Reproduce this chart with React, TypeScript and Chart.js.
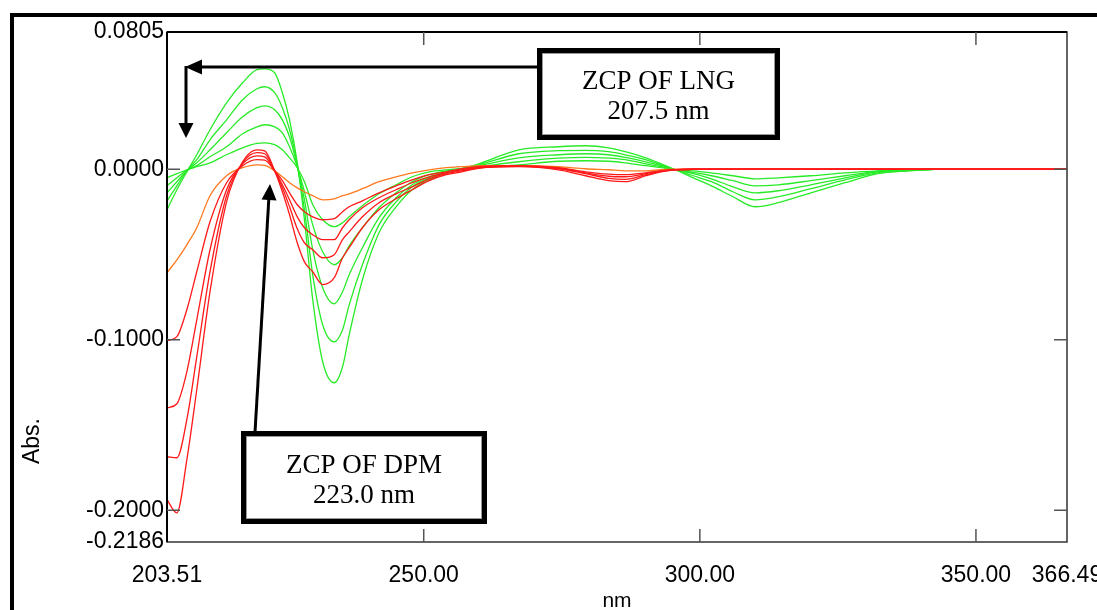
import React, { useEffect, useRef } from "react";
import { Chart, registerables } from "chart.js";

Chart.register(...registerables);

// ---------- data ----------
const wavelengths = [
  203.51, 205.3, 207.1, 208.9, 211.3, 214.3, 217.2, 219.8, 221.2, 223.0,
  224.4, 225.7, 227.1, 228.4, 229.9, 231.7, 233.8, 235.3, 236.5, 238.9,
  241.9, 245.0, 247.9, 251.0, 254.1, 256.9, 260.0, 267.2, 274.4, 279.3,
  283.5, 286.5, 290.2, 293.0, 295.6, 298.8, 302.1, 306.0, 310.0, 314.2,
  320.1, 326.3, 332.2, 337.6, 342.5, 353.9, 366.49,
];

const xTickValues = [203.51, 250, 300, 350, 366.49];
const yTickValues = [0.0805, 0, -0.1, -0.2, -0.2186];
const innerXTicks = [250, 300, 350];
const innerYTicks = [0, -0.1, -0.2];

// LNG (green) first-derivative spectra
const lng1 = [-0.0238, -0.012, -0.0015, 0.0085, 0.0232, 0.039, 0.0507, 0.0584, 0.0589, 0.0566, 0.0449, 0.029, 0.0038, -0.0296, -0.0765, -0.1129, -0.1252, -0.1158, -0.0971, -0.0648, -0.0372, -0.022, -0.012, -0.0062, -0.0021, 0.0003, 0.0032, 0.0114, 0.0132, 0.0138, 0.0126, 0.0103, 0.0067, 0.0032, -0.0003, -0.005, -0.0097, -0.0161, -0.022, -0.0196, -0.0138, -0.0079, -0.0026, -0.0009, 0.0, null, null];
const lng2 = [-0.0185, -0.0097, -0.0009, 0.0056, 0.0173, 0.029, 0.0408, 0.0472, 0.0484, 0.0449, 0.0361, 0.0232, 0.0026, -0.0238, -0.0619, -0.0912, -0.1012, -0.0941, -0.0795, -0.056, -0.0326, -0.0191, -0.0103, -0.005, -0.0021, 0.0003, 0.0026, 0.0091, 0.0109, 0.0111, 0.0103, 0.0085, 0.0056, 0.0026, -0.0003, -0.0038, -0.0073, -0.0132, -0.0179, -0.0161, -0.0114, -0.0062, -0.0021, -0.0009, 0.0, null, null];
const lng3 = [-0.0138, -0.0073, -0.0009, 0.0038, 0.0114, 0.0214, 0.0308, 0.0361, 0.0372, 0.0349, 0.029, 0.0191, 0.0021, -0.0179, -0.0472, -0.0695, -0.0789, -0.0718, -0.0619, -0.046, -0.0284, -0.0167, -0.0091, -0.0044, -0.0015, 0.0003, 0.0021, 0.0067, 0.0085, 0.0091, 0.0085, 0.007, 0.0044, 0.0021, -0.0003, -0.0026, -0.0056, -0.0103, -0.0138, -0.0126, -0.0091, -0.005, -0.0015, -0.0006, 0.0, null, null];
const lng4 = [-0.0097, -0.005, -0.0006, 0.0021, 0.0073, 0.0132, 0.0208, 0.0249, 0.0261, 0.0249, 0.0214, 0.0132, 0.0015, -0.0132, -0.0326, -0.0484, -0.056, -0.0519, -0.0449, -0.0343, -0.0226, -0.0138, -0.0073, -0.0032, -0.0009, 0.0003, 0.0015, 0.0044, 0.0065, 0.007, 0.0065, 0.0056, 0.0032, 0.0015, -0.0003, -0.0018, -0.0038, -0.0067, -0.0097, -0.0091, -0.0067, -0.0038, -0.0012, -0.0005, 0.0, null, null];
const lng5 = [-0.005, -0.0026, -0.0003, 0.0015, 0.0038, 0.0085, 0.0126, 0.0152, 0.0155, 0.0144, 0.0114, 0.0067, 0.0009, -0.0073, -0.0208, -0.0296, -0.0337, -0.0314, -0.0279, -0.0214, -0.0144, -0.0091, -0.0044, -0.0015, -0.0003, 0.0003, 0.0009, 0.0026, 0.0047, 0.005, 0.0047, 0.0038, 0.0021, 0.0009, -0.0003, -0.0009, -0.0021, -0.0038, -0.0056, -0.005, -0.0038, -0.0021, -0.0009, -0.0003, 0.0, null, null];

// DPM (red) first-derivative spectra
const dpm1 = [-0.1006, -0.0982, -0.0824, -0.0601, -0.0308, -0.0079, 0.0021, 0.0056, 0.0053, -0.0009, -0.0067, -0.0138, -0.0208, -0.0249, -0.0279, -0.0296, -0.029, -0.0249, -0.022, -0.0185, -0.0138, -0.0097, -0.0062, -0.0032, -0.0015, 0.0003, 0.0015, 0.0021, 0.0009, -0.0015, -0.0029, -0.0032, -0.0021, -0.0009, -0.0003, 0, 0, 0, 0, 0, 0, 0, 0, 0, 0, 0, 0];
const dpm2 = [-0.1399, -0.1375, -0.1188, -0.0883, -0.0472, -0.012, 0.0032, 0.0079, 0.0073, -0.0009, -0.0091, -0.0179, -0.0279, -0.0343, -0.0384, -0.0413, -0.0413, -0.0343, -0.0296, -0.0226, -0.0167, -0.012, -0.0079, -0.0044, -0.0021, -0.0003, 0.0012, 0.0018, 0.0006, -0.0021, -0.0041, -0.0044, -0.0026, -0.0009, -0.0003, 0, 0, 0, 0, 0, 0, 0, 0, 0, 0, 0, 0];
const dpm3 = [-0.1686, -0.1692, -0.1469, -0.11, -0.0601, -0.0155, 0.0038, 0.0097, 0.0091, -0.0009, -0.0109, -0.022, -0.0349, -0.0431, -0.0472, -0.0519, -0.0501, -0.0413, -0.0367, -0.0279, -0.0196, -0.0144, -0.0103, -0.0056, -0.0026, -0.0009, 0.0009, 0.0018, 0.0003, -0.0026, -0.0053, -0.0059, -0.0032, -0.0012, -0.0003, 0, 0, 0, 0, 0, 0, 0, 0, 0, 0, 0, 0];
const dpm4 = [-0.1938, -0.2015, -0.1704, -0.1293, -0.0718, -0.0191, 0.0044, 0.0114, 0.0108, -0.0009, -0.0132, -0.0267, -0.0431, -0.0543, -0.0601, -0.0677, -0.0636, -0.0519, -0.046, -0.0343, -0.0238, -0.0173, -0.012, -0.0067, -0.0032, -0.0015, 0.0006, 0.0015, -0.0003, -0.0038, -0.0067, -0.0073, -0.0038, -0.0015, -0.0003, 0, 0, 0, 0, 0, 0, 0, 0, 0, 0, 0, 0];

// orange spectrum
const orangeSeries = [-0.0607, -0.0531, -0.0443, -0.0343, -0.0155, -0.0038, 0.0009, 0.0026, 0.0023, -0.0009, -0.0044, -0.0079, -0.0109, -0.0132, -0.0155, -0.0179, -0.0173, -0.0155, -0.0144, -0.0114, -0.0073, -0.0044, -0.0021, -0.0003, 0.0009, 0.0015, 0.0021, 0.0021, 0.0015, 0.0003, -0.0003, -0.0009, -0.0009, -0.0003, 0.0, 0, 0, 0, 0, 0, 0, 0, 0, 0, 0, 0, 0];

const GREEN = "rgb(40,235,40)";
const RED = "rgb(255,25,25)";
const ORANGE = "rgb(255,120,30)";

const SANS = '"Liberation Sans", Arial, sans-serif';
const SERIF = '"Liberation Serif", "Times New Roman", serif';

function toPoints(values: (number | null)[]) {
  return wavelengths.map((w, i) => ({ x: w, y: values[i] }));
}

function arrowHead(ctx: CanvasRenderingContext2D, fx: number, fy: number, tx: number, ty: number, len: number, wid: number) {
  const dx = tx - fx;
  const dy = ty - fy;
  const d = Math.hypot(dx, dy);
  const ux = dx / d;
  const uy = dy / d;
  const bx = tx - ux * len;
  const by = ty - uy * len;
  ctx.beginPath();
  ctx.moveTo(tx, ty);
  ctx.lineTo(bx - uy * wid / 2, by + ux * wid / 2);
  ctx.lineTo(bx + uy * wid / 2, by - ux * wid / 2);
  ctx.closePath();
  ctx.fill();
}

function box(ctx: CanvasRenderingContext2D, x: number, y: number, w: number, h: number, l1: string, l2: string) {
  ctx.fillStyle = "#fff";
  ctx.fillRect(x, y, w, h);
  ctx.lineWidth = 5;
  ctx.strokeStyle = "#000";
  ctx.strokeRect(x + 2.5, y + 2.5, w - 5, h - 5);
  ctx.lineWidth = 1;
  ctx.strokeStyle = "#999";
  ctx.strokeRect(x + 5.5, y + 5.5, w - 11, h - 11);
  ctx.fillStyle = "#000";
  ctx.font = `27px ${SERIF}`;
  ctx.textAlign = "center";
  ctx.textBaseline = "middle";
  const cx = x + w / 2;
  ctx.fillText(l1, cx, y + h * 0.37);
  ctx.fillText(l2, cx, y + h * 0.7);
}

const framePlugin = {
  id: "framePlugin",
  afterDraw(chart: any) {
    const ctx: CanvasRenderingContext2D = chart.ctx;
    const { left, right, top, bottom } = chart.chartArea;
    const xs = chart.scales.x;
    const ys = chart.scales.y;
    ctx.save();
    // frame
    ctx.strokeStyle = "#333";
    ctx.lineWidth = 1.5;
    ctx.strokeRect(left, top, right - left, bottom - top);
    ctx.strokeStyle = "#000";
    ctx.lineWidth = 2;
    ctx.beginPath();
    ctx.moveTo(left, top);
    ctx.lineTo(right, top);
    ctx.moveTo(left, top);
    ctx.lineTo(left, bottom);
    ctx.stroke();
    // inner ticks
    ctx.strokeStyle = "#555";
    ctx.lineWidth = 1.5;
    ctx.beginPath();
    innerXTicks.forEach((v) => {
      const px = xs.getPixelForValue(v);
      ctx.moveTo(px, bottom);
      ctx.lineTo(px, bottom - 13);
      ctx.moveTo(px, top);
      ctx.lineTo(px, top + 13);
    });
    innerYTicks.forEach((v) => {
      const py = ys.getPixelForValue(v);
      ctx.moveTo(left, py);
      ctx.lineTo(left + 13, py);
      ctx.moveTo(right, py);
      ctx.lineTo(right - 13, py);
    });
    ctx.stroke();

    // axis titles
    ctx.fillStyle = "#000";
    ctx.font = `21px ${SANS}`;
    ctx.textAlign = "center";
    ctx.textBaseline = "middle";
    ctx.fillText("nm", (left + right) / 2, 601);
    ctx.save();
    ctx.translate(33, 441);
    ctx.rotate(-Math.PI / 2);
    ctx.font = `23px ${SANS}`;
    ctx.fillText("Abs.", 0, 0);
    ctx.restore();

    // annotation: ZCP of LNG
    ctx.fillStyle = "#000";
    ctx.strokeStyle = "#000";
    ctx.lineWidth = 3;
    ctx.beginPath();
    ctx.moveTo(537, 67);
    ctx.lineTo(195, 67);
    ctx.moveTo(186, 66);
    ctx.lineTo(186, 126);
    ctx.stroke();
    arrowHead(ctx, 537, 67, 185, 67, 17, 15);
    arrowHead(ctx, 186, 67, 186, 138, 15, 15);
    box(ctx, 537, 48, 243, 92, "ZCP OF LNG", "207.5 nm");

    // annotation: ZCP of DPM
    ctx.fillStyle = "#000";
    ctx.strokeStyle = "#000";
    ctx.lineWidth = 3;
    ctx.beginPath();
    ctx.moveTo(255, 432);
    ctx.lineTo(269, 196);
    ctx.stroke();
    arrowHead(ctx, 255, 432, 270, 184, 16, 15);
    box(ctx, 241, 431, 246, 93, "ZCP OF DPM", "223.0 nm");
    ctx.restore();
  },
};

export default function App() {
  const canvasRef = useRef<HTMLCanvasElement | null>(null);

  useEffect(() => {
    if (!canvasRef.current) return;
    const mk = (values: (number | null)[], color: string) => ({
      data: toPoints(values),
      borderColor: color,
      backgroundColor: color,
      borderWidth: 1.3,
      pointRadius: 0,
      fill: false,
      cubicInterpolationMode: "monotone" as const,
      spanGaps: false,
    });
    const chart = new Chart(canvasRef.current, {
      type: "line",
      data: {
        datasets: [
          mk(dpm1, RED),
          mk(dpm2, RED),
          mk(dpm3, RED),
          mk(dpm4, RED),
          mk(orangeSeries, ORANGE),
          mk(lng1, GREEN),
          mk(lng2, GREEN),
          mk(lng3, GREEN),
          mk(lng4, GREEN),
          mk(lng5, GREEN),
        ],
      },
      options: {
        animation: false,
        responsive: false,
        devicePixelRatio: 1,
        layout: { padding: { left: 0, right: 30, top: 32, bottom: 0 } },
        plugins: { legend: { display: false }, tooltip: { enabled: false } },
        scales: {
          x: {
            type: "linear",
            min: 203.51,
            max: 366.49,
            afterBuildTicks: (scale: any) => {
              scale.ticks = xTickValues.map((v) => ({ value: v }));
            },
            afterFit: (scale: any) => {
              scale.height = 68;
              scale.paddingLeft = 0;
              scale.paddingRight = 0;
            },
            grid: { display: false, drawTicks: false },
            border: { display: false },
            ticks: {
              autoSkip: false,
              maxRotation: 0,
              minRotation: 0,
              padding: 20,
              color: "#000",
              font: { family: SANS, size: 23 },
              callback: (v: any) => Number(v).toFixed(2),
            },
          },
          y: {
            type: "linear",
            min: -0.2186,
            max: 0.0805,
            afterBuildTicks: (scale: any) => {
              scale.ticks = yTickValues.map((v) => ({ value: v }));
            },
            afterFit: (scale: any) => {
              scale.width = 167;
              scale.paddingTop = 0;
              scale.paddingBottom = 0;
            },
            grid: { display: false, drawTicks: false },
            border: { display: false },
            ticks: {
              autoSkip: false,
              padding: 3,
              color: "#000",
              font: { family: SANS, size: 23 },
              callback: (v: any) => Number(v).toFixed(4),
            },
          },
        },
      },
      plugins: [framePlugin],
    } as any);
    return () => chart.destroy();
  }, []);

  return (
    <div style={{ position: "fixed", left: 0, top: 0, width: 1097, height: 610, background: "#fff", overflow: "hidden" }}>
      <div
        style={{
          position: "absolute",
          left: 10,
          top: 13,
          width: 1200,
          height: 700,
          borderLeft: "4px solid #000",
          borderTop: "4px solid #000",
        }}
      />
      <canvas ref={canvasRef} width={1097} height={610} style={{ position: "absolute", left: 0, top: 0 }} />
    </div>
  );
}
